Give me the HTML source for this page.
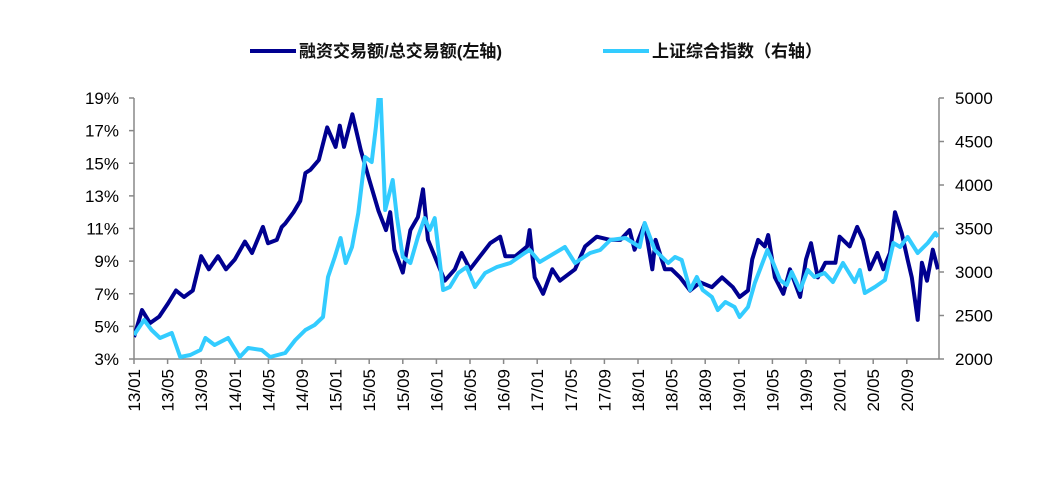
<!DOCTYPE html>
<html><head><meta charset="utf-8"><style>
body{margin:0;background:#fff;width:1058px;height:495px;overflow:hidden}
svg text{font-family:"Liberation Sans","Noto Sans CJK SC",sans-serif}
</style></head><body>
<svg id="c" width="1058" height="495">
<defs><clipPath id="pc"><rect x="134" y="98" width="805" height="261"/></clipPath></defs>
<g>
<line x1="250" y1="51" x2="296" y2="51" stroke="#000090" stroke-width="4"/>
<text x="299" y="57" font-size="17" font-weight="bold" fill="#111">融资交易额/总交易额(左轴)</text>
<line x1="603" y1="51" x2="649" y2="51" stroke="#33ccff" stroke-width="4"/>
<text x="652" y="57" font-size="17" font-weight="bold" fill="#111">上证综合指数（右轴）</text>
</g>
<g id="axes"></g>
<g id="series" clip-path="url(#pc)"></g>
</svg>
<script>
const months=["13/01","13/05","13/09","14/01","14/05","14/09","15/01","15/05","15/09","16/01","16/05","16/09","17/01","17/05","17/09","18/01","18/05","18/09","19/01","19/05","19/09","20/01","20/05","20/09"];
const leftTicks=[3,5,7,9,11,13,15,17,19];
const rightTicks=[2000,2500,3000,3500,4000,4500,5000];
const ratioT=[0,0.95,1.9,3,4.05,5,5.95,7,8,8.9,10,10.95,12,13.2,14.05,15.35,15.95,17,17.6,18,19,19.8,20.4,21,22,23,24,24.5,25,26,27,28,29.1,30,30.5,31,32,32.9,33.8,34.4,35,35.8,37,38.2,39,40,41.2,42.4,43.6,44.2,45.4,46.8,47.1,47.7,48.7,49.8,50.7,52.5,53.7,55.1,56.7,57.9,59,59.6,60.8,61.7,62.1,63.2,64,65,66.2,67.4,68.8,70,71.3,72.1,73.1,73.6,74.3,75.1,75.5,76.3,77.3,78.1,79.3,80,80.6,81.4,82.3,83.5,84,85.2,86.1,86.8,87.6,88.5,89.2,90,90.6,91.4,92.1,92.6,93.3,93.8,94.4,95.1,95.7];
const ratioV=[4.35,6.0,5.2,5.6,6.4,7.2,6.8,7.2,9.3,8.5,9.3,8.5,9.1,10.2,9.5,11.1,10.1,10.3,11.1,11.3,12.0,12.7,14.4,14.6,15.2,17.2,16.0,17.3,16.0,18.0,15.8,14.0,12.1,10.9,12.0,9.7,8.3,10.9,11.7,13.4,10.3,9.3,7.8,8.5,9.5,8.5,9.3,10.1,10.5,9.3,9.3,9.9,10.9,8.0,7.0,8.5,7.8,8.5,9.9,10.5,10.3,10.3,10.9,9.7,11.3,8.5,10.3,8.5,8.5,8.0,7.2,7.7,7.4,8.0,7.4,6.8,7.2,9.1,10.3,9.9,10.6,8.0,7.0,8.5,6.8,9.1,10.1,8.0,8.9,8.9,10.5,9.9,11.1,10.3,8.5,9.5,8.5,9.5,12.0,10.7,9.1,8.0,5.4,8.9,7.8,9.7,8.5];
const indexT=[0,1.2,2.1,3.1,4.5,5.5,6.7,7.9,8.5,9.6,11.2,12.6,13.6,15.2,16.2,18,19.2,20.4,21.5,22.5,23.1,23.9,24.6,25.2,25.95,26.7,27.5,28.3,28.8,29.3,29.9,30.8,31.3,32,32.9,33.8,34.6,35.2,35.8,36.8,37.6,38.6,39.6,40.6,41.8,43.2,44.8,46.5,47.1,48.3,50.7,51.3,52.5,54.3,55.5,56.7,58.5,60.2,60.8,62,63.6,64.4,65.2,66.2,67,67.7,68.8,69.5,70.4,71.5,72.1,73.1,73.9,74.5,75.4,76.1,76.9,77.7,78.3,79.3,80.2,81,82.2,83.2,84.4,85.8,86.4,87,88.2,89.4,90.4,91.2,92.1,93.3,94.5,95.4,95.7];
const indexV=[2276,2448,2333,2241,2299,2023,2046,2103,2241,2161,2241,2023,2126,2103,2023,2069,2218,2333,2391,2483,2943,3172,3391,3103,3287,3678,4322,4264,4667,5180,3713,4057,3632,3172,3103,3402,3620,3483,3620,2793,2828,2989,3057,2828,2989,3057,3103,3218,3253,3115,3253,3287,3103,3218,3253,3368,3391,3287,3563,3253,3103,3172,3138,2793,2943,2793,2713,2563,2655,2598,2483,2598,2873,3023,3253,3103,2908,2851,3000,2793,3023,2943,2989,2885,3103,2885,3023,2759,2828,2908,3333,3287,3402,3218,3333,3448,3402];
const X0=134,X1=939,Y0=359,Y1=98;
const xs=m=>X0+m*8.4;
const yl=v=>Y0-(v-3)/16*(Y0-Y1);
const yr=v=>Y0-(v-2000)/3000*(Y0-Y1);
const NS="http://www.w3.org/2000/svg";
const ax=document.getElementById('axes'),sg=document.getElementById('series');
function mk(t,a,p){const e=document.createElementNS(NS,t);for(const k in a)e.setAttribute(k,a[k]);p.appendChild(e);return e;}
const g='#888';
let e=mk('line',{x1:X0,y1:Y1,x2:X0,y2:Y0,stroke:g,'stroke-width':1.5},ax);


e=mk('line',{x1:X1,y1:Y1,x2:X1,y2:Y0,stroke:g,'stroke-width':1.5},ax);


e=mk('line',{x1:X0,y1:Y0,x2:X1,y2:Y0,stroke:g,'stroke-width':1.5},ax);


leftTicks.forEach(v=>{const y=yl(v);
mk('line',{x1:X0-5,y1:y,x2:X0,y2:y,stroke:g,'stroke-width':1.5},ax);
const t=mk('text',{x:X0-15,y:y+6,'font-size':17,'text-anchor':'end',fill:'#000'},ax);t.textContent=v+'%';

});
rightTicks.forEach(v=>{const y=yr(v);
mk('line',{x1:X1,y1:y,x2:X1+5,y2:y,stroke:g,'stroke-width':1.5},ax);
const t=mk('text',{x:X1+16,y:y+6,'font-size':17,fill:'#000'},ax);t.textContent=v;

});
months.forEach((s,i)=>{const x=xs(i*4);
mk('line',{x1:x,y1:Y0,x2:x,y2:Y0+5,stroke:g,'stroke-width':1.5},ax);
const t=mk('text',{x:0,y:0,'font-size':17,'text-anchor':'end',fill:'#000',transform:`translate(${x+6},${Y0+10}) rotate(-90)`},ax);t.textContent=s;

});
function pts(T,V,f){return T.map((m,i)=>xs(m).toFixed(1)+','+f(V[i]).toFixed(1)).join(' ');}
e=mk('polyline',{points:pts(ratioT,ratioV,yl),fill:'none',stroke:'#000090','stroke-width':4,'stroke-linejoin':'round'},sg);


e=mk('polyline',{points:pts(indexT,indexV,yr),fill:'none',stroke:'#33ccff','stroke-width':4,'stroke-linejoin':'round'},sg);


</script>
</body></html>
